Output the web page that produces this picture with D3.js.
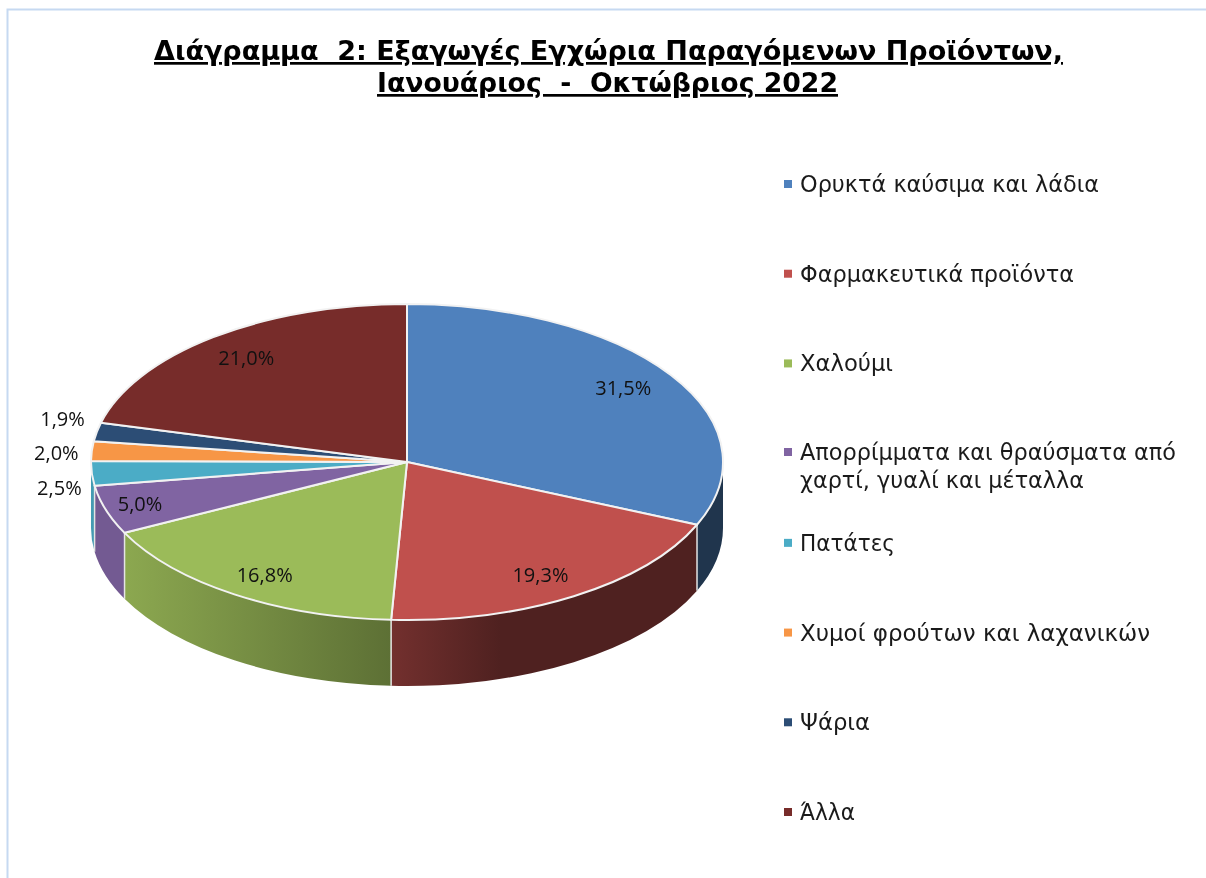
<!DOCTYPE html>
<meta charset="utf-8">
<style>
html, body { margin: 0; padding: 0; background: #fff; }
svg { display: block; filter: blur(0.7px); }
text { white-space: pre; }
.title { font-family: "DejaVu Sans"; font-weight: bold; font-size: 27px; text-decoration: underline; fill: #000; }
.legend text { font-family: "DejaVu Sans"; font-size: 23px; fill: #1a1a1a; }
.lab { font-family: "Open Sans"; font-size: 20px; fill: #111; }
</style>
<body>
<svg width="1206" height="878"></svg>
<script src="https://d3js.org/d3.v7.min.js"></script>
<script>

var titleLines = ["Διάγραμμα  2: Εξαγωγές Εγχώρια Παραγόμενων Προϊόντων,", "Ιανουάριος  -  Οκτώβριος 2022"];

var categories = ["Ορυκτά καύσιμα και λάδια", "Φαρμακευτικά προϊόντα", "Χαλούμι",
  "Απορρίμματα και θραύσματα από χαρτί, γυαλί και μέταλλα", "Πατάτες",
  "Χυμοί φρούτων και λαχανικών", "Ψάρια", "Άλλα"];
var values = [31.5, 19.3, 16.8, 5.0, 2.5, 2.0, 1.9, 21.0];
var colors = ["#4F81BD", "#C0504D", "#9BBB59", "#8064A2", "#4BACC6", "#F79646", "#2C4D75", "#772C2A"];

var svg = d3.select("svg");

// chart frame
svg.append("path").attr("d", "M7.5,878V9.5H1206").attr("fill", "none").attr("stroke", "#c6d9f1").attr("stroke-width", 2);

// title
var titleBox = [[154, 909, 60], [377, 461, 92]];
svg.selectAll(".title").data(titleLines).enter().append("text")
    .attr("class", "title")
    .attr("x", function(d, i) { return titleBox[i][0]; })
    .attr("y", function(d, i) { return titleBox[i][2]; })
    .attr("textLength", function(d, i) { return titleBox[i][1]; })
    .attr("lengthAdjust", "spacingAndGlyphs")
    .text(function(d) { return d; });

// pie geometry: unit circle squashed by the two scales
var x = d3.scaleLinear().domain([-1, 1]).range([91, 723]);
var y = d3.scaleLinear().domain([-1, 1]).range([304, 620]);
var rx = 316, ry = 158, depth = 66;

var pie = d3.pie().sort(null);
var slices = pie(values);

function px(a, r) { return x(r * Math.sin(a)); }
function py(a, r) { return y(-r * Math.cos(a)); }

// shading of the side wall, same stops for every colour
var defs = svg.append("defs");
var shadeStops = [[0, 0.9], [0.052, 0.9], [0.475, 0.6], [0.648, 0.41], [1, 0.41]];
colors.forEach(function(c, i) {
  var g = defs.append("linearGradient").attr("id", "wall" + i)
      .attr("gradientUnits", "userSpaceOnUse")
      .attr("x1", x(-1)).attr("x2", x(1)).attr("y1", 0).attr("y2", 0);
  var rgb = d3.rgb(c);
  shadeStops.forEach(function(s) {
    g.append("stop").attr("offset", s[0])
        .attr("stop-color", d3.rgb(rgb.r * s[1], rgb.g * s[1], rgb.b * s[1]).formatHex());
  });
});

// side walls, only the front half of the pie is visible
var walls = svg.append("g");
slices.forEach(function(d, i) {
  var a0 = Math.max(d.startAngle, Math.PI / 2), a1 = Math.min(d.endAngle, Math.PI * 1.5);
  if (a1 <= a0) return;
  var p = "M" + px(a0, 1) + "," + py(a0, 1)
    + "A" + rx + "," + ry + " 0 0 1 " + px(a1, 1) + "," + py(a1, 1)
    + "V" + (py(a1, 1) + depth)
    + "A" + rx + "," + ry + " 0 0 0 " + px(a0, 1) + "," + (py(a0, 1) + depth) + "Z";
  walls.append("path").attr("d", p).attr("fill", "url(#wall" + i + ")");
  if (a0 > Math.PI / 2) {
    walls.append("line")
        .attr("x1", px(a0, 1)).attr("x2", px(a0, 1))
        .attr("y1", py(a0, 1)).attr("y2", py(a0, 1) + depth)
        .attr("stroke", "#e4e4e4").attr("stroke-width", 1.5);
  }
});

// top face
svg.append("g").selectAll("path").data(slices).enter().append("path")
    .attr("d", function(d) {
      var large = d.endAngle - d.startAngle > Math.PI ? 1 : 0;
      return "M" + x(0) + "," + y(0)
        + "L" + px(d.startAngle, 1) + "," + py(d.startAngle, 1)
        + "A" + rx + "," + ry + " 0 " + large + " 1 " + px(d.endAngle, 1) + "," + py(d.endAngle, 1) + "Z";
    })
    .attr("fill", function(d, i) { return colors[i]; })
    .attr("stroke", "#f2f2f2")
    .attr("stroke-width", 2)
    .attr("stroke-linejoin", "round");

// data labels: centroid at 0.83 of the radius, then nudged like the original
var labelNudge = [[-3, -2], [-5, 2], [1, 3], [-17, 2], [-86, 17], [-89, 0], [-87, -18], [0, 0]];
svg.append("g").selectAll("text").data(slices).enter().append("text")
    .attr("class", "lab")
    .attr("text-anchor", "middle")
    .attr("dy", "0.35em")
    .attr("x", function(d, i) { return px((d.startAngle + d.endAngle) / 2, 0.83) + labelNudge[i][0]; })
    .attr("y", function(d, i) { return py((d.startAngle + d.endAngle) / 2, 0.83) + labelNudge[i][1]; })
    .text(function(d) { return d.value.toFixed(1).replace(".", ",") + "%"; });

// legend
var legendLines = [["Ορυκτά καύσιμα και λάδια"], ["Φαρμακευτικά προϊόντα"], ["Χαλούμι"],
  ["Απορρίμματα και θραύσματα από", "χαρτί, γυαλί και μέταλλα"], ["Πατάτες"],
  ["Χυμοί φρούτων και λαχανικών"], ["Ψάρια"], ["Άλλα"]];
var legendY = d3.scaleLinear().domain([0, 7]).range([184, 812]);
var legendWidths = [[299], [274], [93], [376, 284], [95], [350], [70], [55]];

var legend = svg.append("g").attr("class", "legend");
categories.forEach(function(c, i) {
  var ly = i == 3 ? 452 : legendY(i);
  legend.append("rect").attr("x", 784).attr("y", ly - 4).attr("width", 8).attr("height", 8).attr("fill", colors[i]);
  legendLines[i].forEach(function(t, j) {
    legend.append("text").attr("x", 800).attr("y", ly + 8 + j * 28)
        .attr("textLength", legendWidths[i][j])
        .attr("lengthAdjust", "spacingAndGlyphs")
        .text(t);
  });
});

</script>
</body>
